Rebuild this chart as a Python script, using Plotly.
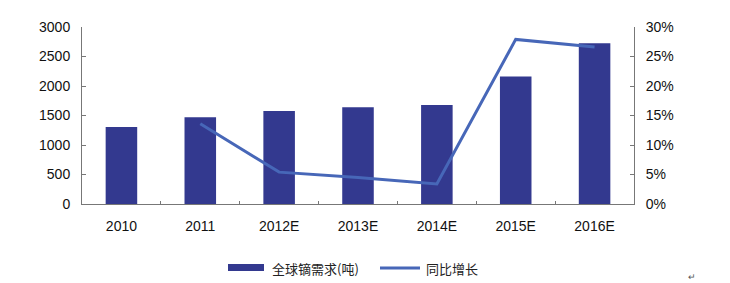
import plotly.graph_objects as go

categories = ["2010", "2011", "2012E", "2013E", "2014E", "2015E", "2016E"]
demand = [1305, 1470, 1575, 1640, 1680, 2160, 2725]
growth_x = ["2011", "2012E", "2013E", "2014E", "2015E", "2016E"]
growth = [13.6, 5.4, 4.5, 3.4, 27.9, 26.6]
left_ticks = [0, 500, 1000, 1500, 2000, 2500, 3000]
right_ticks = [0, 5, 10, 15, 20, 25, 30]
legend_names = ["全球镝需求(吨)", "同比增长"]

font = "Liberation Sans, Arial, sans-serif"
bar_color = "#33398f"
line_color = "#4767b8"

fig = go.Figure()
fig.add_trace(go.Bar(x=categories, y=demand, name=legend_names[0],
                     marker=dict(color=bar_color, line=dict(width=0)), showlegend=False))
fig.add_trace(go.Scatter(x=growth_x, y=growth, name=legend_names[1], yaxis="y2",
                         mode="lines", line=dict(color=line_color, width=3), showlegend=False))

W, H = 730, 283
L, R, T, B = 82, 96, 27, 79
pw, ph = W - L - R, H - T - B
def xp(x): return (x - L) / pw
def yp(y): return (H - B - y) / ph

shapes = [
    dict(type="rect", xref="paper", yref="paper", x0=xp(228), x1=xp(264),
         y0=yp(271), y1=yp(264), fillcolor=bar_color, line=dict(width=0)),
    dict(type="line", xref="paper", yref="paper", x0=xp(380), x1=xp(420),
         y0=yp(268), y1=yp(268), line=dict(color=line_color, width=3)),
]
annotations = [
    dict(text=legend_names[0], xref="paper", yref="paper", x=xp(270), y=yp(268),
         xanchor="left", yanchor="middle", showarrow=False,
         font=dict(family="Noto Sans CJK SC", size=13, color="#222")),
    dict(text=legend_names[1], xref="paper", yref="paper", x=xp(424), y=yp(268),
         xanchor="left", yanchor="middle", showarrow=False,
         font=dict(family="Noto Sans CJK SC", size=13, color="#222")),
    dict(text="↵", xref="paper", yref="paper", x=xp(692), y=yp(276),
         xanchor="center", yanchor="middle", showarrow=False,
         font=dict(size=9, color="#555")),
]

fig.update_layout(
    width=W, height=H,
    margin=dict(l=L, r=R, t=T, b=B),
    paper_bgcolor="white", plot_bgcolor="white",
    bargap=0.6,
    showlegend=False,
    xaxis=dict(type="category", showline=True, linecolor="#777", linewidth=1,
               ticks="inside", ticklen=3, tickcolor="#777", tickson="boundaries",
               ticklabelstandoff=9,
               tickfont=dict(family=font, size=14, color="#111"),
               showgrid=False, zeroline=False, automargin=False),
    yaxis=dict(range=[0, 3000], tickvals=left_ticks, showline=True, linecolor="#777",
               ticks="inside", ticklen=4, tickcolor="#777", showgrid=False, zeroline=False,
               ticklabelstandoff=8, automargin=False,
               tickfont=dict(family=font, size=14, color="#111")),
    yaxis2=dict(range=[0, 30], tickvals=right_ticks,
                ticktext=[f"{v}%" for v in right_ticks], overlaying="y",
                side="right", showline=True, linecolor="#777", ticks="inside",
                ticklen=4, tickcolor="#777", showgrid=False, zeroline=False,
                ticklabelstandoff=8, automargin=False,
                tickfont=dict(family=font, size=14, color="#111")),
    shapes=shapes,
    annotations=annotations,
)

fig.write_html("out.html")
